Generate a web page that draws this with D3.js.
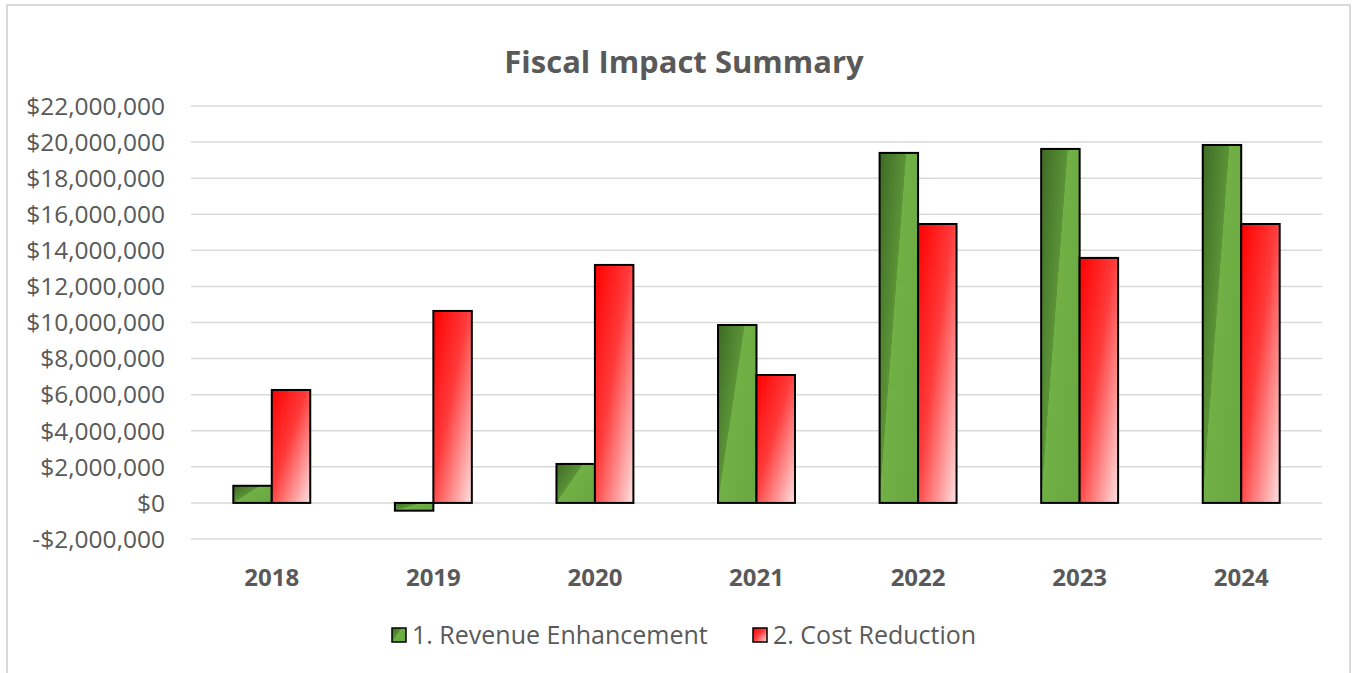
<!DOCTYPE html>
<html>
<head>
<meta charset="utf-8">
<script src="https://cdn.jsdelivr.net/npm/d3@7"></script>
<style>
  body { margin: 0; background: #fff; }
  text { font-family: "Open Sans", sans-serif; fill: #595959; }
</style>
</head>
<body>
<div id="chart"></div>
<script>
var years = ["2018", "2019", "2020", "2021", "2022", "2023", "2024"];
var seriesNames = ["1. Revenue Enhancement", "2. Cost Reduction"];
var revenue = [950000, -430000, 2160000, 9860000, 19400000, 19620000, 19840000];
var costRed = [6260000, 10640000, 13190000, 7090000, 15460000, 13580000, 15460000];
var yTicks = [-2000000, 0, 2000000, 4000000, 6000000, 8000000, 10000000, 12000000,
  14000000, 16000000, 18000000, 20000000, 22000000];

var w = 1357, h = 673;
var plotL = 191, plotR = 1322, plotT = 106, plotB = 539;

var svg = d3.select("#chart").append("svg")
  .attr("width", w)
  .attr("height", h);

// gradients
var defs = svg.append("defs");
var gg = defs.append("linearGradient")
  .attr("id", "gGreen")
  .attr("x1", 0).attr("y1", 0).attr("x2", 1).attr("y2", 0.7);
gg.append("stop").attr("offset", 0).attr("stop-color", "#3d6a25");
gg.append("stop").attr("offset", 0.46).attr("stop-color", "#5b9337");
gg.append("stop").attr("offset", 0.47).attr("stop-color", "#71b045");
gg.append("stop").attr("offset", 1).attr("stop-color", "#6aa941");

var gr = defs.append("linearGradient")
  .attr("id", "gRed")
  .attr("x1", 0).attr("y1", 0).attr("x2", 1).attr("y2", 1);
gr.append("stop").attr("offset", 0).attr("stop-color", "#ff0000");
gr.append("stop").attr("offset", 0.45).attr("stop-color", "#ff3a3a");
gr.append("stop").attr("offset", 1).attr("stop-color", "#ffe2e2");

var fills = ["url(#gGreen)", "url(#gRed)"];

// chart border
svg.append("rect")
  .attr("x", 7).attr("y", 5)
  .attr("width", 1343).attr("height", 700)
  .attr("fill", "none")
  .attr("stroke", "#d9d9d9")
  .attr("stroke-width", 2);

svg.append("text")
  .attr("x", 684).attr("y", 73)
  .attr("text-anchor", "middle")
  .style("font-size", "31px")
  .style("font-weight", "bold")
  .text("Fiscal Impact Summary");

var x = d3.scaleBand().domain(years).range([plotL, plotR]);
var y = d3.scaleLinear().domain([-2000000, 22000000]).range([plotB, plotT]);

var barW = x.bandwidth() / 4.2;

// gridlines
svg.append("g").selectAll("line")
  .data(yTicks)
  .enter().append("line")
  .attr("x1", plotL).attr("x2", plotR)
  .attr("y1", d => y(d)).attr("y2", d => y(d))
  .attr("stroke", "#d9d9d9")
  .attr("stroke-width", 1.5);

// y axis labels
var fmt = d3.format(",");
svg.append("g").selectAll("text")
  .data(yTicks)
  .enter().append("text")
  .attr("x", 165)
  .attr("y", d => y(d))
  .attr("dy", "0.36em")
  .attr("text-anchor", "end")
  .style("font-size", "24.5px")
  .text(d => (d < 0 ? "-$" : "$") + fmt(Math.abs(d)));

// x axis labels
svg.append("g").selectAll("text")
  .data(years)
  .enter().append("text")
  .attr("x", d => x(d) + x.bandwidth() / 2)
  .attr("y", 577)
  .attr("dy", "0.36em")
  .attr("text-anchor", "middle")
  .style("font-size", "24px")
  .style("font-weight", "bold")
  .text(d => d);

// bars
var series = [revenue, costRed];
series.forEach(function(vals, s) {
  svg.append("g").selectAll("rect")
    .data(vals)
    .enter().append("rect")
    .attr("x", (d, i) => x(years[i]) + x.bandwidth() / 2 - barW + s * barW)
    .attr("y", d => y(Math.max(0, d)))
    .attr("width", barW)
    .attr("height", d => Math.abs(y(d) - y(0)))
    .attr("fill", fills[s])
    .attr("stroke", "#000")
    .attr("stroke-width", 2);
});

// legend
var legX = [392, 753];
seriesNames.forEach(function(name, s) {
  svg.append("rect")
    .attr("x", legX[s]).attr("y", 628)
    .attr("width", 14).attr("height", 14)
    .attr("fill", fills[s])
    .attr("stroke", "#000")
    .attr("stroke-width", 1.5);
  svg.append("text")
    .attr("x", legX[s] + 20).attr("y", 635)
    .attr("dy", "0.36em")
    .style("font-size", "25px")
    .text(name);
});
</script>
</body>
</html>
